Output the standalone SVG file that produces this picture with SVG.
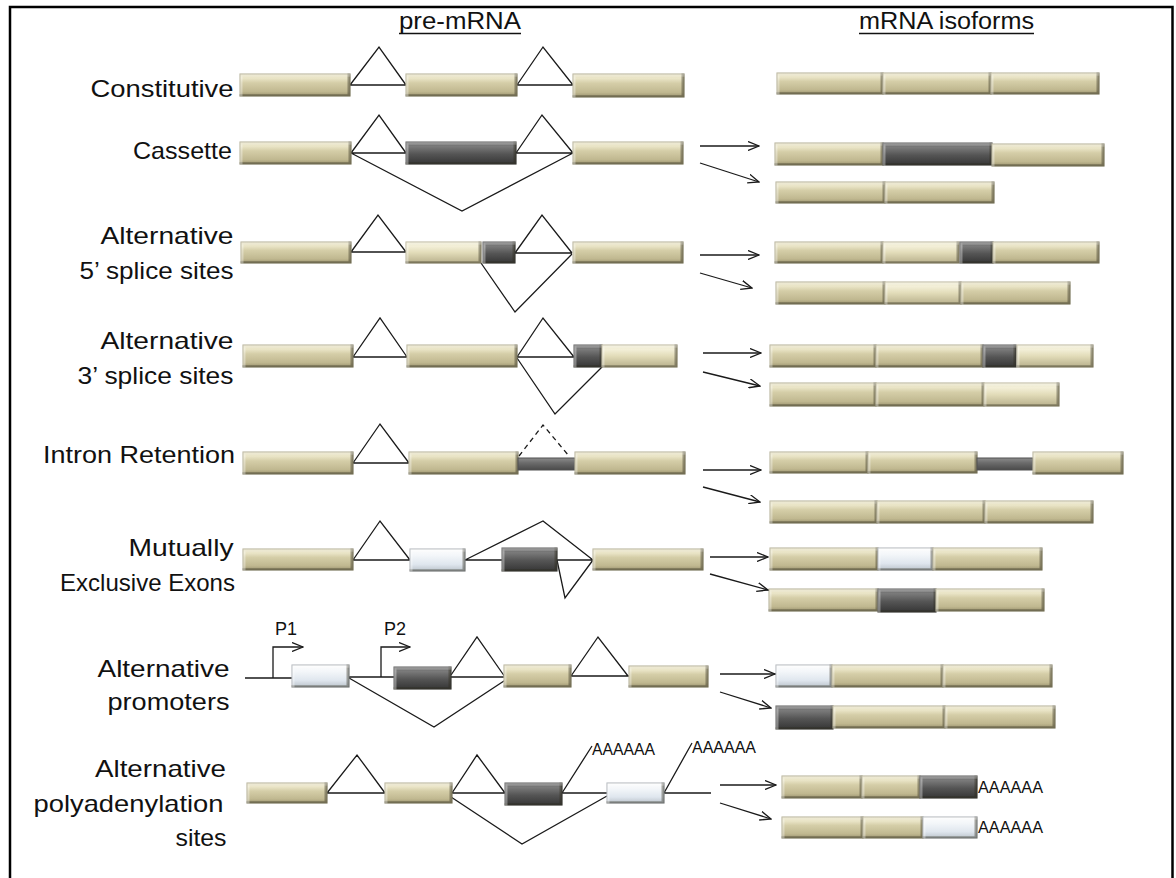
<svg xmlns="http://www.w3.org/2000/svg" width="1176" height="878" viewBox="0 0 1176 878">
<defs>
<style>
.ln{fill:none;stroke:#1a1a1a;stroke-width:1.3}
.dash{stroke-dasharray:5 4}
.ar{fill:none;stroke:#1a1a1a;stroke-width:1.3;marker-end:url(#arr)}
rect.ex{filter:url(#bev);stroke-width:1}
.t{fill:url(#gT);stroke:#a29b7c}
.l{fill:url(#gL);stroke:#aaa383}
.d{fill:url(#gD);stroke:#3c3c3c}
.w{fill:url(#gW);stroke:#9ba2a8}
.r{fill:url(#gR);stroke:#505050}
text{font-family:"Liberation Sans",Arial,sans-serif;fill:#111}
.lab{font-size:24px;text-anchor:end}
.ttl{font-size:23px;text-anchor:middle}
.pa{font-size:16px}
.pp{font-size:18px}
</style>
<linearGradient id="gT" x1="0" y1="0" x2="0" y2="1">
<stop offset="0" stop-color="#e2dcbc"/><stop offset="0.18" stop-color="#ebe6c9"/><stop offset="0.4" stop-color="#d5cea8"/><stop offset="0.8" stop-color="#c0b890"/><stop offset="1" stop-color="#9b9370"/>
</linearGradient>
<linearGradient id="gL" x1="0" y1="0" x2="0" y2="1">
<stop offset="0" stop-color="#ece8cd"/><stop offset="0.2" stop-color="#f3efd8"/><stop offset="0.5" stop-color="#e2dcb9"/><stop offset="1" stop-color="#b8b08c"/>
</linearGradient>
<linearGradient id="gD" x1="0" y1="0" x2="0" y2="1">
<stop offset="0" stop-color="#6a6a6a"/><stop offset="0.2" stop-color="#7a7a7a"/><stop offset="0.55" stop-color="#555"/><stop offset="1" stop-color="#363636"/>
</linearGradient>
<linearGradient id="gW" x1="0" y1="0" x2="0" y2="1">
<stop offset="0" stop-color="#fdfdfd"/><stop offset="0.3" stop-color="#f3f6f9"/><stop offset="0.7" stop-color="#dfe6ee"/><stop offset="1" stop-color="#bcc4cc"/>
</linearGradient>
<linearGradient id="gR" x1="0" y1="0" x2="0" y2="1">
<stop offset="0" stop-color="#8c8c8c"/><stop offset="0.4" stop-color="#6c6c6c"/><stop offset="1" stop-color="#4a4a4a"/>
</linearGradient>
<filter id="bev" x="-5%" y="-15%" width="110%" height="130%" color-interpolation-filters="sRGB">
<feOffset in="SourceAlpha" dx="-3" dy="-2.5" result="o1"/>
<feComposite in="SourceAlpha" in2="o1" operator="out" result="e1"/>
<feFlood flood-color="#2e2a1c" flood-opacity="0.4"/>
<feComposite in2="e1" operator="in" result="dk"/>
<feOffset in="SourceAlpha" dx="3" dy="2.5" result="o2"/>
<feComposite in="SourceAlpha" in2="o2" operator="out" result="e2"/>
<feFlood flood-color="#ffffff" flood-opacity="0.35"/>
<feComposite in2="e2" operator="in" result="lt"/>
<feMerge><feMergeNode in="SourceGraphic"/><feMergeNode in="dk"/><feMergeNode in="lt"/></feMerge>
</filter>
<marker id="arr" viewBox="0 0 12 10" refX="11" refY="5" markerWidth="12" markerHeight="10" markerUnits="userSpaceOnUse" orient="auto">
<path d="M0,0.5 L11,5 L0,9.5" fill="none" stroke="#1a1a1a" stroke-width="1.3"/>
</marker>
</defs>
<rect x="0" y="0" width="1176" height="878" fill="#fff"/>
<rect x="10" y="7" width="1162.5" height="885" fill="none" stroke="#000" stroke-width="2.5"/>

<g id="titles">
<text class="ttl" x="460" y="29" textLength="122" lengthAdjust="spacingAndGlyphs">pre-mRNA</text>
<line x1="399" y1="33.5" x2="521" y2="33.5" stroke="#111" stroke-width="1.5"/>
<text class="ttl" x="946.5" y="29" textLength="175" lengthAdjust="spacingAndGlyphs">mRNA isoforms</text>
<line x1="859" y1="33.5" x2="1034" y2="33.5" stroke="#111" stroke-width="1.5"/>
</g>

<g id="labels">
<text class="lab" x="233.5" y="96.5" textLength="143" lengthAdjust="spacingAndGlyphs">Constitutive</text>
<text class="lab" x="232" y="159" textLength="99" lengthAdjust="spacingAndGlyphs">Cassette</text>
<text class="lab" x="233.5" y="244" textLength="133" lengthAdjust="spacingAndGlyphs">Alternative</text>
<text class="lab" x="233.5" y="279" textLength="154" lengthAdjust="spacingAndGlyphs">5’ splice sites</text>
<text class="lab" x="233.5" y="349" textLength="133" lengthAdjust="spacingAndGlyphs">Alternative</text>
<text class="lab" x="233.5" y="384" textLength="156" lengthAdjust="spacingAndGlyphs">3’ splice sites</text>
<text class="lab" x="235" y="463" textLength="192" lengthAdjust="spacingAndGlyphs">Intron Retention</text>
<text class="lab" x="233.5" y="556" textLength="105" lengthAdjust="spacingAndGlyphs">Mutually</text>
<text class="lab" x="235" y="591" textLength="175" lengthAdjust="spacingAndGlyphs">Exclusive Exons</text>
<text class="lab" x="229.5" y="677" textLength="132" lengthAdjust="spacingAndGlyphs">Alternative</text>
<text class="lab" x="229.5" y="710" textLength="122" lengthAdjust="spacingAndGlyphs">promoters</text>
<text class="lab" x="226" y="777" textLength="131" lengthAdjust="spacingAndGlyphs">Alternative</text>
<text class="lab" x="223.5" y="812" textLength="190" lengthAdjust="spacingAndGlyphs">polyadenylation</text>
<text class="lab" x="226.5" y="846" textLength="51" lengthAdjust="spacingAndGlyphs">sites</text>
</g>

<!-- Row 1 Constitutive -->
<g id="pre-constitutive">
<path class="ln" d="M350,85 H406 M517,85 H573 M350,85 L379,47 L406,85 M517,85 L543,47 L573,85"/>
<rect class="ex t" x="240" y="74" width="110" height="22"/>
<rect class="ex t" x="406" y="74" width="111" height="22"/>
<rect class="ex t" x="573" y="74" width="111" height="23"/>
</g>
<g id="iso-constitutive">
<rect class="ex t" x="777" y="73" width="106" height="21"/>
<rect class="ex t" x="883" y="73" width="108" height="21"/>
<rect class="ex t" x="991" y="73" width="108" height="21"/>
</g>

<!-- Row 2 Cassette -->
<g id="pre-cassette">
<path class="ln" d="M351,153 H406 M516,153 H573 M351,153 L379,115 L406,153 M516,153 L542,115 L573,153 M351,153 L462,211 L573,153"/>
<rect class="ex t" x="240" y="142" width="111" height="22"/>
<rect class="ex d" x="406" y="142" width="110" height="22"/>
<rect class="ex t" x="573" y="142" width="110" height="22"/>
</g>
<g id="iso-cassette-1">
<rect class="ex t" x="775" y="143" width="108" height="22"/>
<rect class="ex d" x="883" y="143" width="109" height="22"/>
<rect class="ex t" x="992" y="144" width="112" height="22"/>
</g>
<g id="iso-cassette-2">
<rect class="ex t" x="776" y="182" width="109" height="21"/>
<rect class="ex t" x="885" y="182" width="109" height="21"/>
</g>

<!-- Row 3 Alternative 5' -->
<g id="pre-alt5">
<path class="ln" d="M351,252 H406 M515,253 H572 M351,252 L378,215 L406,252 M515,253 L542,215 L572,253 M481,263 L515,312 L572,254"/>
<rect class="ex t" x="241" y="242" width="110" height="21"/>
<rect class="ex l" x="406" y="242" width="75" height="21"/>
<rect class="ex d" x="483" y="242" width="32" height="21"/>
<rect class="ex t" x="573" y="242" width="110" height="21"/>
</g>
<g id="iso-alt5-1">
<rect class="ex t" x="775" y="242" width="108" height="21"/>
<rect class="ex l" x="883" y="242" width="76" height="21"/>
<rect class="ex d" x="960" y="242" width="33" height="21"/>
<rect class="ex t" x="993" y="242" width="106" height="21"/>
</g>
<g id="iso-alt5-2">
<rect class="ex t" x="776" y="282" width="109" height="22"/>
<rect class="ex l" x="885" y="282" width="76" height="22"/>
<rect class="ex t" x="961" y="282" width="109" height="22"/>
</g>

<!-- Row 4 Alternative 3' -->
<g id="pre-alt3">
<path class="ln" d="M353,357 H407 M517,357 H574 M353,357 L380,318 L407,357 M517,357 L543,318 L574,357 M517,358 L555,414 L602,367"/>
<rect class="ex t" x="243" y="345" width="110" height="22"/>
<rect class="ex t" x="407" y="345" width="110" height="22"/>
<rect class="ex d" x="574" y="345" width="28" height="22"/>
<rect class="ex l" x="602" y="345" width="75" height="22"/>
</g>
<g id="iso-alt3-1">
<rect class="ex t" x="770" y="345" width="106" height="22"/>
<rect class="ex t" x="876" y="345" width="107" height="22"/>
<rect class="ex d" x="983" y="345" width="33" height="22"/>
<rect class="ex l" x="1017" y="345" width="76" height="22"/>
</g>
<g id="iso-alt3-2">
<rect class="ex t" x="770" y="383" width="106" height="23"/>
<rect class="ex t" x="876" y="383" width="108" height="23"/>
<rect class="ex l" x="984" y="383" width="75" height="23"/>
</g>

<!-- Row 5 Intron retention -->
<g id="pre-intron-retention">
<path class="ln" d="M353,463 H409 M353,463 L380,424 L409,463"/>
<path class="ln dash" d="M519,456 L543,425 L569,456"/>
<rect class="ex t" x="243" y="452" width="110" height="22"/>
<rect class="ex t" x="409" y="452" width="109" height="22"/>
<rect class="r" x="518" y="458" width="57" height="12"/>
<rect class="ex t" x="575" y="452" width="110" height="22"/>
</g>
<g id="iso-ir-1">
<rect class="ex t" x="770" y="452" width="98" height="21"/>
<rect class="ex t" x="868" y="452" width="109" height="21"/>
<rect class="r" x="977" y="458" width="56" height="12"/>
<rect class="ex t" x="1033" y="452" width="90" height="22"/>
</g>
<g id="iso-ir-2">
<rect class="ex t" x="770" y="501" width="107" height="22"/>
<rect class="ex t" x="877" y="501" width="108" height="22"/>
<rect class="ex t" x="985" y="501" width="108" height="22"/>
</g>

<!-- Row 6 Mutually exclusive -->
<g id="pre-mutex">
<path class="ln" d="M353,560 H410 M465,560 H502 M557,560 H593 M353,560 L380,521 L410,560 M465,560 L543,521 L593,560 M557,560 L565,598 L593,560"/>
<rect class="ex t" x="243" y="549" width="110" height="21"/>
<rect class="ex w" x="410" y="549" width="55" height="22"/>
<rect class="ex d" x="502" y="548" width="55" height="23"/>
<rect class="ex t" x="593" y="549" width="110" height="21"/>
</g>
<g id="iso-mutex-1">
<rect class="ex t" x="770" y="548" width="108" height="22"/>
<rect class="ex w" x="878" y="548" width="55" height="22"/>
<rect class="ex t" x="933" y="548" width="109" height="22"/>
</g>
<g id="iso-mutex-2">
<rect class="ex t" x="769" y="589" width="109" height="22"/>
<rect class="ex d" x="878" y="589" width="58" height="23"/>
<rect class="ex t" x="936" y="589" width="108" height="22"/>
</g>

<!-- Row 7 Alternative promoters -->
<g id="pre-promoters">
<path class="ln" d="M245,678 H292 M349,677 H394 M451,677 H505 M571,676 H629 M451,675 L477,637 L505,677 M571,676 L598,637 L628,676 M349,678 L434,727 L510,677"/>
<path class="ar" d="M273,678 V647 H303"/>
<path class="ar" d="M381,677 V647 H410"/>
<text class="pp" x="275" y="635">P1</text>
<text class="pp" x="384" y="635">P2</text>
<rect class="ex w" x="292" y="665" width="57" height="22"/>
<rect class="ex d" x="394" y="667" width="57" height="22"/>
<rect class="ex t" x="504" y="665" width="67" height="22"/>
<rect class="ex t" x="629" y="666" width="79" height="21"/>
</g>
<g id="iso-promoters-1">
<rect class="ex w" x="776" y="665" width="56" height="22"/>
<rect class="ex t" x="832" y="665" width="111" height="22"/>
<rect class="ex t" x="943" y="665" width="109" height="22"/>
</g>
<g id="iso-promoters-2">
<rect class="ex d" x="776" y="706" width="57" height="23"/>
<rect class="ex t" x="833" y="706" width="112" height="22"/>
<rect class="ex t" x="945" y="706" width="110" height="22"/>
</g>

<!-- Row 8 Alternative polyadenylation -->
<g id="pre-polya">
<path class="ln" d="M327,793 H385 M452,793 H505 M562,793 H607 M664,793 H711 M327,793 L357,755 L385,793 M452,793 L477,755 L505,793 M448,795 L522,844 L607,796 M562,793 L592,746 M664,793 L692,743"/>
<rect class="ex t" x="247" y="783" width="80" height="20"/>
<rect class="ex t" x="385" y="783" width="67" height="20"/>
<rect class="ex d" x="505" y="783" width="57" height="22"/>
<rect class="ex w" x="607" y="783" width="57" height="20"/>
<text class="pa" x="592" y="755" textLength="63" lengthAdjust="spacingAndGlyphs">AAAAAA</text>
<text class="pa" x="692" y="752.5" textLength="64" lengthAdjust="spacingAndGlyphs">AAAAAA</text>
</g>
<g id="iso-polya-1">
<rect class="ex t" x="782" y="776" width="80" height="22"/>
<rect class="ex t" x="862" y="776" width="58" height="22"/>
<rect class="ex d" x="920" y="776" width="57" height="22"/>
<text class="pa" x="978" y="792.5" textLength="65" lengthAdjust="spacingAndGlyphs">AAAAAA</text>
</g>
<g id="iso-polya-2">
<rect class="ex t" x="782" y="817" width="81" height="21"/>
<rect class="ex t" x="863" y="817" width="60" height="21"/>
<rect class="ex w" x="923" y="817" width="54" height="21"/>
<text class="pa" x="978" y="832.5" textLength="65" lengthAdjust="spacingAndGlyphs">AAAAAA</text>
</g>

<g id="connectors">
<path class="ar" d="M700,146 H759"/>
<path class="ar" d="M700,163 L759,182"/>
<path class="ar" d="M700,255 H759"/>
<path class="ar" d="M700,273 L752,288"/>
<path class="ar" d="M703,353 H761"/>
<path class="ar" d="M703,372 L760,386"/>
<path class="ar" d="M703,470 H761"/>
<path class="ar" d="M703,487 L760,502"/>
<path class="ar" d="M710,557 H768"/>
<path class="ar" d="M710,574 L768,590"/>
<path class="ar" d="M720,674 H775"/>
<path class="ar" d="M720,692 L771,708"/>
<path class="ar" d="M720,785 H776"/>
<path class="ar" d="M720,803 L771,819"/>
</g>
</svg>
